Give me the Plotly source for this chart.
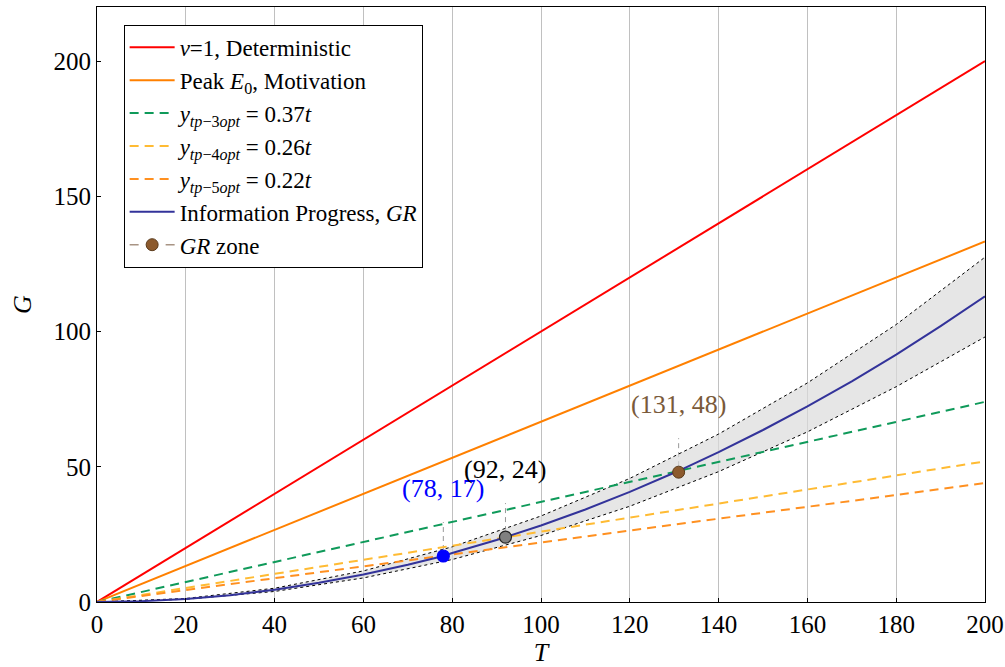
import plotly.graph_objects as go

FONT = "Liberation Serif"

# ---------------- data ----------------
t_lin = [0, 200]
det_y = [0, 200]          # v=1, deterministic
peak_y = [0, 133.3]       # Peak E0, motivation
y3_y = [0, 74]            # 0.37 t
y4_y = [0, 52]            # 0.26 t
y5_y = [0, 44]            # 0.22 t

gr_x = [0, 10, 20, 30, 40, 50, 60, 70, 78, 80, 90, 92, 100, 110, 120, 130, 131,
        140, 150, 160, 170, 180, 190, 200]
gr_y = [0, 0.3, 1.1, 2.5, 4.5, 7.1, 10.2, 13.8, 17, 18.1, 22.9, 24, 28.3, 34.2,
        40.7, 47.8, 48.5, 55.4, 63.6, 72.3, 81.6, 91.5, 102, 113]

band_x = [0, 20, 40, 60, 80, 100, 120, 140, 160, 180, 200]
band_hi = [0, 1.3, 5.1, 11.5, 20.4, 31.8, 45.7, 62.1, 81.0, 102.6, 127.5]
band_lo = [0, 1.0, 3.9, 8.9, 15.7, 24.6, 35.4, 48.2, 62.9, 79.6, 98.0]

pts_x = [78, 92, 131]
pts_y = [17, 24, 48]
pts_lbl = ["(78, 17)", "(92, 24)", "(131, 48)"]
pts_fill = ["#0000ff", "#808080", "#8c5a2d"]
pts_edge = ["#0000ff", "#222222", "#5a3a1a"]
lbl_col = ["#0000ff", "#000000", "#7a5a3a"]

x_ticks = list(range(0, 201, 20))
y_ticks = [0, 50, 100, 150, 200]

DASH = "9px,6px"

fig = go.Figure()

# band
fig.add_trace(go.Scatter(x=band_x, y=band_lo, mode="lines",
                         line=dict(color="black", width=1, dash="dot"),
                         showlegend=False, hoverinfo="skip"))
fig.add_trace(go.Scatter(x=band_x, y=band_hi, mode="lines", fill="tonexty",
                         fillcolor="rgba(220,220,220,0.7)",
                         line=dict(color="black", width=1, dash="dot"),
                         showlegend=False, hoverinfo="skip"))

fig.add_trace(go.Scatter(x=t_lin, y=det_y, mode="lines",
                         line=dict(color="#ff0000", width=2),
                         name="<i>v</i>=1, Deterministic"))
fig.add_trace(go.Scatter(x=t_lin, y=peak_y, mode="lines",
                         line=dict(color="#ff8000", width=2),
                         name="Peak <i>E</i><sub>0</sub>, Motivation"))
fig.add_trace(go.Scatter(x=t_lin, y=y3_y, mode="lines",
                         line=dict(color="#0f9a5a", width=2, dash=DASH),
                         name="<i>y</i><sub><i>tp</i>−3<i>opt</i></sub> = 0.37<i>t</i>"))
fig.add_trace(go.Scatter(x=t_lin, y=y4_y, mode="lines",
                         line=dict(color="#ffbb33", width=2, dash=DASH),
                         name="<i>y</i><sub><i>tp</i>−4<i>opt</i></sub> = 0.26<i>t</i>"))
fig.add_trace(go.Scatter(x=t_lin, y=y5_y, mode="lines",
                         line=dict(color="#ff9020", width=2, dash=DASH),
                         name="<i>y</i><sub><i>tp</i>−5<i>opt</i></sub> = 0.22<i>t</i>"))
fig.add_trace(go.Scatter(x=gr_x, y=gr_y, mode="lines",
                         line=dict(color="#33339a", width=2),
                         name="Information Progress, <i>GR</i>"))

# GR zone legend entry (brown point)
fig.add_trace(go.Scatter(x=[pts_x[2]], y=[pts_y[2]], mode="lines+markers",
                         line=dict(color="#a89484", width=1.5, dash="dash"),
                         marker=dict(color=pts_fill[2], size=12,
                                     line=dict(color=pts_edge[2], width=1)),
                         name="<i>GR</i> zone"))
# other points
for i in range(2):
    fig.add_trace(go.Scatter(x=[pts_x[i]], y=[pts_y[i]], mode="markers",
                             marker=dict(color=pts_fill[i], size=12,
                                         line=dict(color=pts_edge[i], width=1.2)),
                             showlegend=False))

for i in range(3):
    fig.add_shape(type="line", xref="x", yref="y", ysizemode="pixel",
                  x0=pts_x[i], x1=pts_x[i], yanchor=pts_y[i], y0=6, y1=34,
                  line=dict(color="#999999", width=1, dash="5px,4px"), layer="below")
    fig.add_annotation(x=pts_x[i], y=pts_y[i], xref="x", yref="y",
                       text=pts_lbl[i], showarrow=False, yshift=68,
                       font=dict(size=26, color=lbl_col[i], family=FONT))

fig.update_layout(
    width=1005, height=667,
    margin=dict(l=97, r=20, t=7, b=65, autoexpand=False),
    paper_bgcolor="white", plot_bgcolor="white",
    font=dict(family=FONT, size=25, color="black"),
    legend=dict(x=0.03, y=0.97, xanchor="left", yanchor="top",
                bgcolor="white", bordercolor="black", borderwidth=1,
                font=dict(size=23, family=FONT), itemwidth=45,
                tracegroupgap=0, traceorder="normal"),
    xaxis=dict(range=[0, 200], tickvals=x_ticks, showgrid=True,
               gridcolor="#c0c0c0", gridwidth=1, zeroline=False,
               showline=True, linecolor="black", linewidth=1, mirror=True,
               ticks="inside", ticklen=4, tickcolor="black", automargin=False,
               title=dict(text="<i>T</i>", standoff=6, font=dict(size=26))),
    yaxis=dict(range=[0, 220], tickvals=y_ticks, showgrid=False,
               zeroline=False, showline=True, linecolor="black", linewidth=1,
               mirror=True, ticks="inside", ticklen=4, tickcolor="black",
               automargin=False,
               title=dict(text="<i>G</i>", standoff=14, font=dict(size=26))),
)

fig.write_html("out.html", config={"displayModeBar": False},
               post_script="document.body.style.margin='0';")
